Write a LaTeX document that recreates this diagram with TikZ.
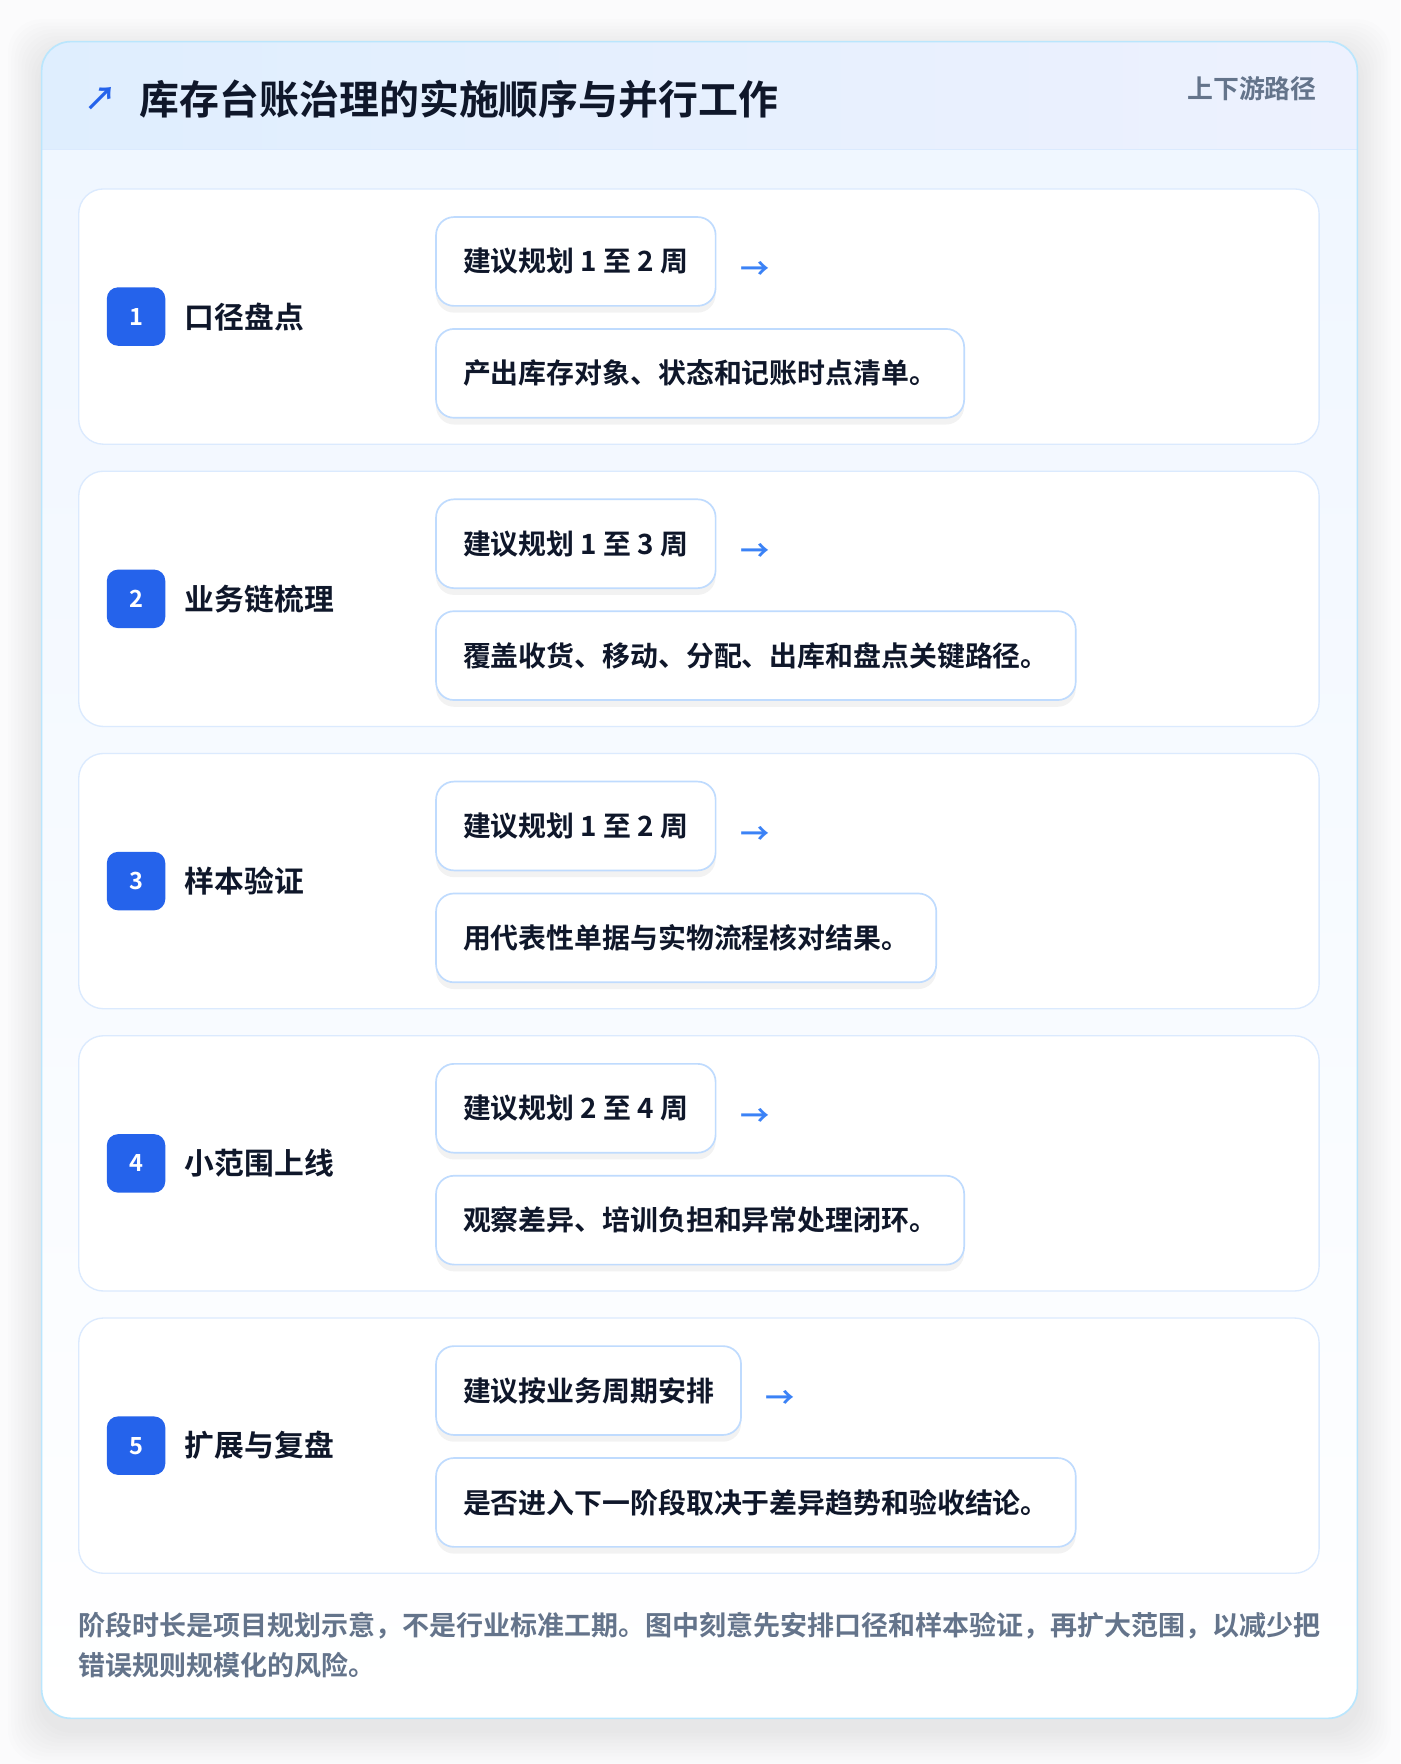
\documentclass[tikz,border=0pt]{standalone}
\usepackage{fontspec}
\setmainfont{Noto Sans CJK SC}[BoldFont={Noto Sans CJK SC Bold}]
\usetikzlibrary{positioning,shadows}

\definecolor{pagebg}{HTML}{FBFBFC}
\definecolor{ink}{HTML}{0F172A}
\definecolor{muted}{HTML}{64748B}
\definecolor{badgeblue}{HTML}{2563EB}
\definecolor{arrowblue}{HTML}{3B82F6}
\definecolor{outerline}{HTML}{BAE6FD}
\definecolor{cardline}{HTML}{DBEAFE}
\definecolor{boxline}{HTML}{BFDBFE}
\definecolor{headleft}{HTML}{DFEEFE}
\definecolor{headright}{HTML}{EDF1FE}
\definecolor{bodytop}{HTML}{EFF6FF}

\tikzset{
	stagecard/.style={draw=cardline, line width=1.2pt, fill=white, rounded corners=22pt,
		minimum width=1103pt, minimum height=227pt},
	badge/.style={fill=badgeblue, rounded corners=10pt, minimum size=52pt, inner sep=0pt,
		text=white, font=\bfseries\fontsize{21}{21}\selectfont},
	stagename/.style={anchor=west, inner sep=0pt, text=ink,
		font=\bfseries\fontsize{26.5}{26.5}\selectfont},
	infobox/.style={draw=boxline, line width=1.5pt, fill=white, rounded corners=16pt,
		inner xsep=24pt, inner ysep=0pt, minimum height=79pt, text=ink,
		font=\bfseries\fontsize{24.8}{24.8}\selectfont,
		drop shadow={shadow xshift=0pt, shadow yshift=-6pt, opacity=0.05, fill=black}},
	nextarrow/.style={inner sep=0pt, text=arrowblue, font=\bfseries\fontsize{26}{26}\selectfont},
}

\begin{document}
\begin{tikzpicture}[x=1pt, y=-1pt]
	\fill[pagebg] (0,0) rectangle (1245,1568.6);
	\useasboundingbox (0,0) rectangle (1245,1568.6);
	% soft shadow of the sheet
	\foreach \s in {3,6,...,30}
		\fill[black, opacity=0.007, rounded corners=30pt] ({37-\s},{47-\s}) rectangle ({1207+\s},{1538+\s});
	% sheet and header
	\fill[top color=bodytop, bottom color=white, rounded corners=26pt] (37,37) rectangle (1207,1528);
	\begin{scope}
		\clip[rounded corners=26pt] (37,37) rectangle (1207,1528);
		\fill[left color=headleft, right color=headright] (37,37) rectangle (1207,133);
	\end{scope}
	\draw[cardline, line width=1.5pt] (37,133) -- (1207,133);
	\draw[outerline, line width=1.5pt, rounded corners=26pt] (37,37) rectangle (1207,1528);

	\node[text=badgeblue, inner sep=0pt, font=\bfseries\fontsize{29}{29}\selectfont] (icon) at (90,88) {↗};
	\node[anchor=west, inner sep=0pt, text=ink, font=\bfseries\fontsize{35.5}{35.5}\selectfont] (title) at (124,88) {库存台账治理的实施顺序与并行工作};
	\node[anchor=east, inner sep=0pt, text=muted, font=\bfseries\fontsize{23}{23}\selectfont] (tag) at (1171,79) {上下游路径};

	% stage 1
	\node[stagecard] (st1) at (621.5,281.5) {};
	\node[badge] (b1) at (121,281.5) {1};
	\node[stagename, right=17pt of b1] (n1) {口径盘点};
	\node[infobox, anchor=west] (d1) at (387,232.5) {建议规划 1 至 2 周};
	\node[nextarrow, right=21pt of d1, yshift=-8pt] (a1) {→};
	\node[infobox, below=19pt of d1.south west, anchor=north west] (t1) {产出库存对象、状态和记账时点清单。};

	% stage 2
	\node[stagecard] (st2) at (621.5,532.5) {};
	\node[badge] (b2) at (121,532.5) {2};
	\node[stagename, right=17pt of b2] (n2) {业务链梳理};
	\node[infobox, anchor=west] (d2) at (387,483.5) {建议规划 1 至 3 周};
	\node[nextarrow, right=21pt of d2, yshift=-8pt] (a2) {→};
	\node[infobox, below=19pt of d2.south west, anchor=north west] (t2) {覆盖收货、移动、分配、出库和盘点关键路径。};

	% stage 3
	\node[stagecard] (st3) at (621.5,783.5) {};
	\node[badge] (b3) at (121,783.5) {3};
	\node[stagename, right=17pt of b3] (n3) {样本验证};
	\node[infobox, anchor=west] (d3) at (387,734.5) {建议规划 1 至 2 周};
	\node[nextarrow, right=21pt of d3, yshift=-8pt] (a3) {→};
	\node[infobox, below=19pt of d3.south west, anchor=north west] (t3) {用代表性单据与实物流程核对结果。};

	% stage 4
	\node[stagecard] (st4) at (621.5,1034.5) {};
	\node[badge] (b4) at (121,1034.5) {4};
	\node[stagename, right=17pt of b4] (n4) {小范围上线};
	\node[infobox, anchor=west] (d4) at (387,985.5) {建议规划 2 至 4 周};
	\node[nextarrow, right=21pt of d4, yshift=-8pt] (a4) {→};
	\node[infobox, below=19pt of d4.south west, anchor=north west] (t4) {观察差异、培训负担和异常处理闭环。};

	% stage 5
	\node[stagecard] (st5) at (621.5,1285.5) {};
	\node[badge] (b5) at (121,1285.5) {5};
	\node[stagename, right=17pt of b5] (n5) {扩展与复盘};
	\node[infobox, anchor=west] (d5) at (387,1236.5) {建议按业务周期安排};
	\node[nextarrow, right=21pt of d5, yshift=-8pt] (a5) {→};
	\node[infobox, below=19pt of d5.south west, anchor=north west] (t5) {是否进入下一阶段取决于差异趋势和验收结论。};

	% footnote
	\node[anchor=north west, inner sep=0pt, align=left, text=muted,
		font=\bfseries\fontsize{24}{36}\selectfont] (note) at (70,1433)
		{阶段时长是项目规划示意，不是行业标准工期。图中刻意先安排口径和样本验证，再扩大范围，以减少把\\错误规则规模化的风险。};
\end{tikzpicture}
\end{document}
